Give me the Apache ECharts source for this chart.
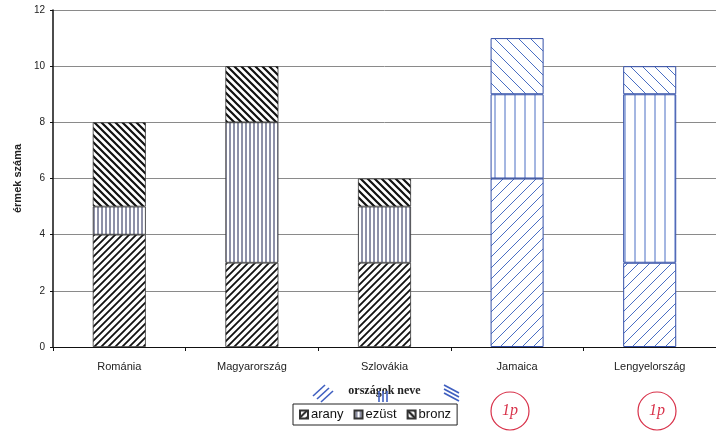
<!DOCTYPE html>
<html>
<head>
<meta charset="utf-8">
<script src="https://cdn.jsdelivr.net/npm/echarts@6/dist/echarts.min.js"></script>
<style>
  html, body { margin: 0; padding: 0; background: #fff; }
  #chart { width: 716px; height: 432px; }
</style>
</head>
<body>
<div id="chart"></div>
<script>
// országok és érmek
var categories = ['Románia', 'Magyarország', 'Szlovákia', 'Jamaica', 'Lengyelország'];
var arany = [4, 3, 3, 6, 3];
var ezust = [1, 5, 2, 3, 6];
var bronz = [3, 2, 1, 2, 1];
var handDrawn = [3, 4]; // kézzel rajzolt oszlopok indexei

// mintázat készítése canvasra
function makePattern(kind, size, color, width) {
  var c = document.createElement('canvas');
  c.width = size; c.height = size;
  var ctx = c.getContext('2d');
  ctx.fillStyle = '#fff';
  ctx.fillRect(0, 0, size, size);
  ctx.strokeStyle = color;
  ctx.lineWidth = width;
  ctx.beginPath();
  if (kind === 'slash') {
    ctx.moveTo(-1, size + 1); ctx.lineTo(size + 1, -1);
    ctx.moveTo(-1, 1); ctx.lineTo(1, -1);
    ctx.moveTo(size - 1, size + 1); ctx.lineTo(size + 1, size - 1);
  } else if (kind === 'back') {
    ctx.moveTo(-1, -1); ctx.lineTo(size + 1, size + 1);
    ctx.moveTo(size - 1, -1); ctx.lineTo(size + 1, 1);
    ctx.moveTo(-1, size - 1); ctx.lineTo(1, size + 1);
  } else {
    ctx.moveTo(size / 2, 0); ctx.lineTo(size / 2, size);
  }
  ctx.stroke();
  return { image: c, repeat: 'repeat' };
}

var pat = {
  arany: makePattern('slash', 7, '#111', 1.8),
  ezust: makePattern('vert', 4, '#1c2350', 1),
  bronz: makePattern('back', 7, '#111', 2.2)
};
var blue = {
  arany: makePattern('slash', 11, '#4a6fc4', 1),
  ezust: makePattern('vert', 10, '#4a6fc4', 1),
  bronz: makePattern('back', 12, '#4a6fc4', 1)
};

function buildData(values, key) {
  return values.map(function (v, i) {
    if (handDrawn.indexOf(i) >= 0) {
      return { value: v, itemStyle: { color: blue[key], borderColor: '#3550a8', borderWidth: 1 } };
    }
    return v;
  });
}

// kék kézi jelek a tengelycím körül
function penMarks(x0, y0, dx, dy, n, step) {
  var out = [];
  for (var i = 0; i < n; i++) {
    out.push({ type: 'line', z: 10,
      shape: { x1: x0 + i * step[0], y1: y0 + i * step[1], x2: x0 + dx + i * step[0], y2: y0 + dy + i * step[1] },
      style: { stroke: '#3f5fc0', lineWidth: 1.6 } });
  }
  return out;
}

var chart = echarts.init(document.getElementById('chart'));

var option = {
  animation: false,
  textStyle: { fontFamily: 'Liberation Sans, Arial, sans-serif' },
  grid: { left: 53, right: -2, top: 10, bottom: 85 },
  legend: {
    left: 293, top: 404,
    padding: [4, 6, 4, 6],
    itemWidth: 8, itemHeight: 8, itemGap: 10,
    borderColor: '#222', borderWidth: 1,
    icon: 'rect',
    textStyle: { fontSize: 13, color: '#111', padding: [0, 0, 0, -2] },
    data: ['arany', 'ezüst', 'bronz']
  },
  xAxis: {
    type: 'category',
    data: categories,
    name: 'országok neve',
    nameLocation: 'middle',
    nameGap: 38,
    nameTextStyle: { fontFamily: 'Liberation Serif, serif', fontWeight: 'bold', fontSize: 12, color: '#222' },
    axisLine: { lineStyle: { color: '#111', width: 1 } },
    axisTick: { show: true, length: 4, lineStyle: { color: '#111' } },
    axisLabel: { fontSize: 11, color: '#222', margin: 14 }
  },
  yAxis: {
    type: 'value',
    min: 0, max: 12, interval: 2,
    name: 'érmek száma',
    nameLocation: 'middle',
    nameGap: 22,
    nameTextStyle: { fontWeight: 'bold', fontSize: 11, color: '#222' },
    axisLine: { show: true, lineStyle: { color: '#111', width: 1.5 } },
    axisTick: { show: true, length: 3, lineStyle: { color: '#111' } },
    axisLabel: { fontSize: 10, color: '#222', margin: 8 },
    splitLine: { lineStyle: { color: '#8a8a8a', width: 1 } }
  },
  series: [
    { name: 'arany', type: 'bar', stack: 'ermek', barWidth: '40%',
      itemStyle: { color: pat.arany, borderColor: '#333', borderWidth: 0.8 },
      data: buildData(arany, 'arany') },
    { name: 'ezüst', type: 'bar', stack: 'ermek', barWidth: '40%',
      itemStyle: { color: pat.ezust, borderColor: '#333', borderWidth: 0.8 },
      data: buildData(ezust, 'ezust') },
    { name: 'bronz', type: 'bar', stack: 'ermek', barWidth: '40%',
      itemStyle: { color: pat.bronz, borderColor: '#333', borderWidth: 0.8 },
      data: buildData(bronz, 'bronz') }
  ],
  graphic: [
    // javítói jelölések (piros karikák)
    { type: 'circle', shape: { cx: 510, cy: 411, r: 19 }, style: { fill: 'none', stroke: '#d8324a', lineWidth: 1.2 } },
    { type: 'text', x: 510, y: 411, style: { text: '1p', fill: '#d8324a', font: 'italic 16px Liberation Serif', align: 'center', verticalAlign: 'middle' } },
    { type: 'circle', shape: { cx: 657, cy: 411, r: 19 }, style: { fill: 'none', stroke: '#d8324a', lineWidth: 1.2 } },
    { type: 'text', x: 657, y: 411, style: { text: '1p', fill: '#d8324a', font: 'italic 16px Liberation Serif', align: 'center', verticalAlign: 'middle' } }
  ].concat(
    penMarks(313, 396, 12, -11, 3, [4, 3]),
    penMarks(379, 391, 0, 11, 3, [4, 0]),
    penMarks(444, 385, 15, 8, 3, [0, 4])
  )
};

chart.setOption(option);
</script>
</body>
</html>
